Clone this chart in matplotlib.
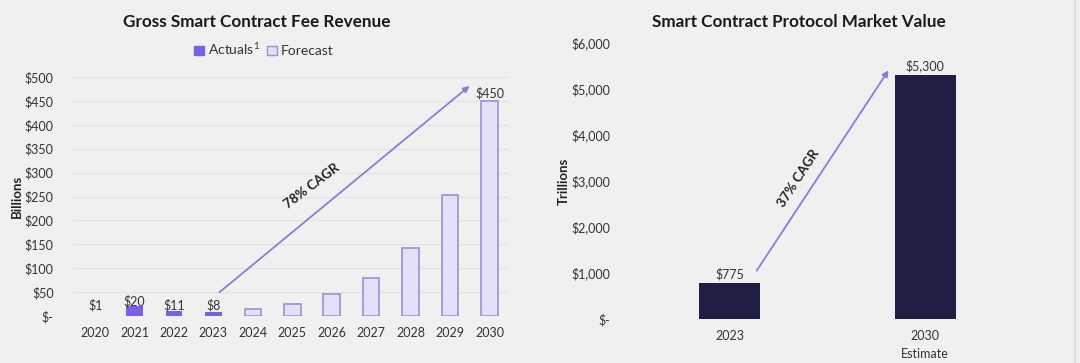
import matplotlib
matplotlib.use("Agg")
import matplotlib.pyplot as plt
from matplotlib.patches import Patch
import numpy as np

plt.rcParams['font.family'] = ['Lato', 'DejaVu Sans']
plt.rcParams['mathtext.fontset'] = 'custom'
plt.rcParams['mathtext.rm'] = 'Lato'

# left chart data (billions)
years = ["2020", "2021", "2022", "2023", "2024", "2025", "2026", "2027", "2028", "2029", "2030"]
actuals = [1, 20, 11, 8]
forecast = [14, 25, 45, 80, 142, 253, 450]
actual_labels = ["$1", "$20", "$11", "$8"]
left_yticks = [0, 50, 100, 150, 200, 250, 300, 350, 400, 450, 500]
left_yticklabels = ["$-", "$50", "$100", "$150", "$200", "$250", "$300", "$350", "$400", "$450", "$500"]

# right chart data (trillions)
mv_cats = ["2023", "2030\nEstimate"]
mv_vals = [775, 5300]
mv_labels = ["$775", "$5,300"]
right_yticks = [0, 1000, 2000, 3000, 4000, 5000, 6000]
right_yticklabels = ["$-", "$1,000", "$2,000", "$3,000", "$4,000", "$5,000", "$6,000"]

bg = "#f0f0f0"
txt = "#333333"
purple = "#7b5fe8"
light = "#e5e0fa"
edge = "#9c90cf"
navy = "#1f1f45"
arrow_c = "#8a7bdc"

fig = plt.figure(figsize=(10.8, 3.63), dpi=100, facecolor=bg)

# ---- left ----
ax = fig.add_axes([73/1080, 47/363, 435/1080, 239/363], facecolor=bg)
x = np.arange(len(years))
ax.bar(x[:4], actuals, width=0.42, color=purple, zorder=3)
ax.bar(x[4:], forecast, width=0.42, color=light, edgecolor=edge, linewidth=1.2, zorder=3)
ax.set_xlim(-0.56, 10.47)
ax.set_ylim(0, 500)
ax.set_yticks(left_yticks)
ax.set_yticklabels(left_yticklabels)
ax.set_xticks(x)
ax.set_xticklabels(years)
ax.grid(axis='y', color='#e3e3e3', linewidth=0.9, zorder=0)
for s in ax.spines.values():
    s.set_visible(False)
ax.tick_params(length=0, labelsize=9, colors=txt, pad=8)
ax.tick_params(axis='y', pad=14)
for i, v in enumerate(actuals):
    ax.annotate(actual_labels[i], (x[i], max(v, 12)), xytext=(0, -1), textcoords='offset points',
                ha='center', va='bottom', fontsize=9, color=txt, zorder=4)
ax.annotate("$450", (x[-1], forecast[-1]), xytext=(0, 1), textcoords='offset points',
            ha='center', va='bottom', fontsize=9, color=txt)
ax.annotate("", xy=(9.55, 485), xytext=(3.1, 46),
            arrowprops=dict(arrowstyle='-|>', color=arrow_c, lw=1.3, mutation_scale=9))
ax.text(5.5, 272, "78% CAGR", rotation=37, ha='center', va='center',
        fontsize=9.5, fontweight='bold', color='#222222')
ax.set_ylabel("Billions", fontsize=9.5, fontweight='bold', color='#222222', labelpad=1)
fig.text(257/1080, 1 - 22/363, "Gross Smart Contract Fee Revenue", fontsize=12.3,
         fontweight='bold', color='#1a1a1a', ha='center', va='center')
handles = [Patch(facecolor=purple, edgecolor=purple),
           Patch(facecolor=light, edgecolor=edge)]
fig.legend(handles, ["Actuals$^{1}$", "Forecast"], loc='center', bbox_to_anchor=(264/1080, 1 - 49/363),
           ncol=2, frameon=False, fontsize=10, handlelength=0.7, handleheight=0.7,
           handletextpad=0.3, columnspacing=0.5, labelcolor=txt)

# ---- right ----
ax2 = fig.add_axes([630/1080, 44/363, 393/1080, 276/363], facecolor=bg)
xr = np.arange(len(mv_cats))
ax2.bar(xr, mv_vals, width=0.31, color=navy, zorder=3)
ax2.set_xlim(-0.51, 1.5)
ax2.set_ylim(0, 6000)
ax2.set_yticks(right_yticks)
ax2.set_yticklabels(right_yticklabels)
ax2.set_xticks(xr)
ax2.set_xticklabels(mv_cats, linespacing=1.6)
for s in ax2.spines.values():
    s.set_visible(False)
ax2.axhline(0, color='#e3e3e3', linewidth=0.9, zorder=1)
ax2.tick_params(length=0, labelsize=9, colors=txt, pad=8)
ax2.tick_params(axis='y', pad=14)
for i, v in enumerate(mv_vals):
    ax2.annotate(mv_labels[i], (xr[i], v), xytext=(0, 2), textcoords='offset points',
                 ha='center', va='bottom', fontsize=9, color=txt)
ax2.annotate("", xy=(0.82, 5457), xytext=(0.13, 1000),
             arrowprops=dict(arrowstyle='-|>', color=arrow_c, lw=1.3, mutation_scale=9))
ax2.text(0.35, 3065, "37% CAGR", rotation=57, ha='center', va='center',
         fontsize=9.5, fontweight='bold', color='#222222')
ax2.set_ylabel("Trillions", fontsize=9.5, fontweight='bold', color='#222222', labelpad=1)
fig.text(799/1080, 1 - 22/363, "Smart Contract Protocol Market Value", fontsize=12.3,
         fontweight='bold', color='#1a1a1a', ha='center', va='center')

fig.add_artist(plt.Line2D([1075/1080, 1075/1080], [0, 1], color='#dedede', lw=1.5))

fig.savefig("out.png", dpi=100, facecolor=bg)
